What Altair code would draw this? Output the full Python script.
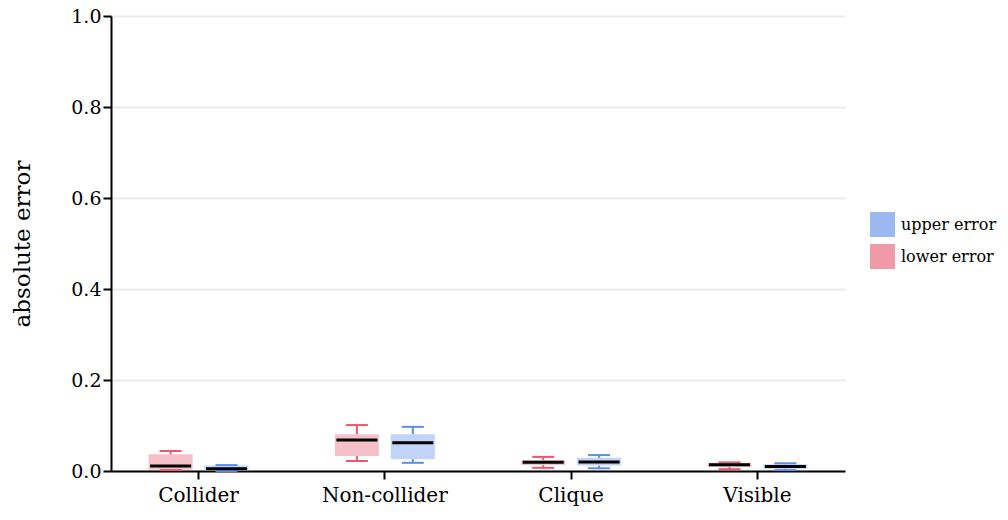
import altair as alt
import pandas as pd

categories = ["Collider", "Non-collider", "Clique", "Visible"]
series_names = ["lower error", "upper error"]

# lower error box stats per category
lower_min = [0.002, 0.022, 0.007, 0.004]
lower_q1 = [0.003, 0.033, 0.013, 0.009]
lower_med = [0.011, 0.068, 0.019, 0.014]
lower_q3 = [0.037, 0.081, 0.024, 0.018]
lower_max = [0.044, 0.101, 0.031, 0.019]

# upper error box stats per category
upper_min = [0.000, 0.018, 0.006, 0.002]
upper_q1 = [0.000, 0.026, 0.012, 0.005]
upper_med = [0.005, 0.062, 0.020, 0.010]
upper_q3 = [0.012, 0.081, 0.029, 0.015]
upper_max = [0.013, 0.097, 0.035, 0.017]

rows = []
for i, c in enumerate(categories):
    rows.append(dict(cat=c, series="lower error", mn=lower_min[i], q1=lower_q1[i],
                     med=lower_med[i], q3=lower_q3[i], mx=lower_max[i]))
    rows.append(dict(cat=c, series="upper error", mn=upper_min[i], q1=upper_q1[i],
                     med=upper_med[i], q3=upper_q3[i], mx=upper_max[i]))
df = pd.DataFrame(rows)

FONT = "DejaVu Serif"

x_enc = alt.X("cat:N", sort=categories, title=None,
              scale=alt.Scale(paddingInner=0.4, paddingOuter=0.17),
              axis=alt.Axis(labelAngle=0, labelFontSize=20, labelFont=FONT, labelColor="black",
                            domainColor="black", domainWidth=2, tickColor="black", tickWidth=2,
                            tickSize=8, labelPadding=6, grid=False))
xoff = alt.XOffset("series:N", sort=series_names,
                   scale=alt.Scale(domain=series_names, paddingInner=0, paddingOuter=0))

stroke_scale = alt.Scale(domain=["lower error", "upper error"], range=["#e85a72", "#5a8ee8"])
fill_scale = alt.Scale(domain=["lower error", "upper error"], range=["#e85a72", "#5a8ee8"])
y_scale = alt.Scale(domain=[0, 1])

base = alt.Chart(df)

whisker_lo = base.mark_rule(strokeWidth=2).encode(
    x=x_enc, xOffset=xoff,
    y=alt.Y("mn:Q", scale=y_scale, title="absolute error",
            axis=alt.Axis(values=[0, 0.2, 0.4, 0.6, 0.8, 1.0], format=".1f",
                          labelFontSize=19, labelFont=FONT, labelColor="black",
                          titleFont=FONT, titleFontSize=23, titleFontWeight="normal",
                          titleColor="black", titlePadding=36,
                          domainColor="black", domainWidth=2, tickColor="black",
                          tickWidth=2, tickSize=8, labelPadding=2,
                          gridColor="#ebebeb", gridWidth=2)),
    y2="q1:Q",
    stroke=alt.Stroke("series:N", scale=stroke_scale, legend=None),
)
whisker_hi = base.mark_rule(strokeWidth=2).encode(
    x=x_enc, xOffset=xoff,
    y=alt.Y("q3:Q", scale=y_scale),
    y2="mx:Q",
    stroke=alt.Stroke("series:N", scale=stroke_scale, legend=None),
)

box = base.mark_bar(size=44, opacity=0.62).encode(
    x=x_enc, xOffset=xoff,
    y=alt.Y("q1:Q", scale=y_scale),
    y2="q3:Q",
    color=alt.Color("series:N",
                    scale=alt.Scale(domain=["upper error", "lower error"],
                                    range=["#9bb8f0", "#f09aa8"]),
                    legend=alt.Legend(title=None, orient="none", legendX=759, legendY=196,
                                      symbolType="square", symbolSize=625, symbolOpacity=1,
                                      symbolStrokeWidth=0,
                                      labelFont=FONT, labelFontSize=16, labelColor="black",
                                      labelOffset=6, rowPadding=7)),
)

cap_lo = base.mark_tick(size=22, thickness=2, opacity=1).encode(
    x=x_enc, xOffset=xoff, y=alt.Y("mn:Q", scale=y_scale),
    fill=alt.Fill("series:N", scale=fill_scale, legend=None))
cap_hi = base.mark_tick(size=22, thickness=2, opacity=1).encode(
    x=x_enc, xOffset=xoff, y=alt.Y("mx:Q", scale=y_scale),
    fill=alt.Fill("series:N", scale=fill_scale, legend=None))

median = base.mark_tick(size=41, thickness=3, color="black", opacity=1).encode(
    x=x_enc, xOffset=xoff, y=alt.Y("med:Q", scale=y_scale))

chart = alt.layer(box, whisker_lo, whisker_hi, cap_lo, cap_hi, median).properties(
    width=734, height=455,
    autosize=alt.AutoSizeParams(type="none"),
    padding={"left": 103, "top": 8, "right": 155, "bottom": 40},
).configure_view(stroke=None)

chart.save("out.html", embed_options={"renderer": "svg", "actions": False})
